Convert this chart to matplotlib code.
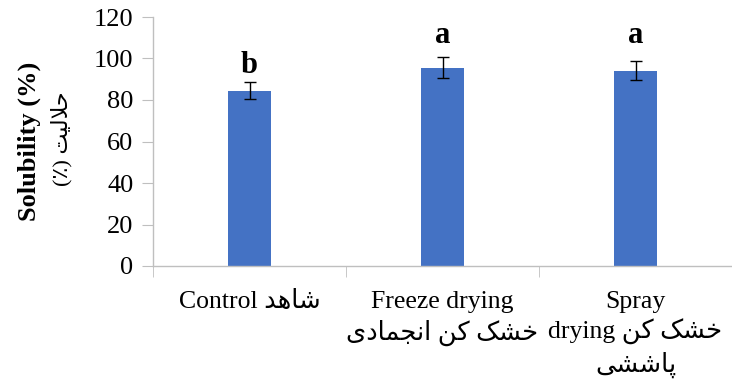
import matplotlib
matplotlib.use("Agg")
import matplotlib.pyplot as plt

# --- data -------------------------------------------------------------
methods = ["Control", "Freeze drying", "Spray drying"]
solubility = [84.5, 95.6, 94.1]
solubility_err = [4.2, 5.0, 4.5]
group_letters = ["b", "a", "a"]
letter_y = [93.0, 107.5, 107.5]
y_ticks = [0, 20, 40, 60, 80, 100, 120]

# --- minimal Persian shaping (presentation forms, visual order) -------
FORMS = {
    'ا': ('\uFE8D', '\uFE8E', None, None),
    'د': ('\uFEA9', '\uFEAA', None, None),
    'ح': ('\uFEA1', '\uFEA2', '\uFEA3', '\uFEA4'),
    'خ': ('\uFEA5', '\uFEA6', '\uFEA7', '\uFEA8'),
    'ج': ('\uFE9D', '\uFE9E', '\uFE9F', '\uFEA0'),
    'ش': ('\uFEB5', '\uFEB6', '\uFEB7', '\uFEB8'),
    'ل': ('\uFEDD', '\uFEDE', '\uFEDF', '\uFEE0'),
    'م': ('\uFEE1', '\uFEE2', '\uFEE3', '\uFEE4'),
    'ن': ('\uFEE5', '\uFEE6', '\uFEE7', '\uFEE8'),
    'ه': ('\uFEE9', '\uFEEA', '\uFEEB', '\uFEEC'),
    'ت': ('\uFE95', '\uFE96', '\uFE97', '\uFE98'),
    'پ': ('\uFB56', '\uFB57', '\uFB58', '\uFB59'),
    'ک': ('\uFB8E', '\uFB8F', '\uFB90', '\uFB91'),
    'ی': ('\uFBFC', '\uFBFD', '\uFBFE', '\uFBFF'),
    'لا': ('\uFEFB', '\uFEFC', None, None),
}


def shape_word(word):
    tokens = []
    i = 0
    while i < len(word):
        if word[i] == 'ل' and i + 1 < len(word) and word[i + 1] == 'ا':
            tokens.append('لا')
            i += 2
        else:
            tokens.append(word[i])
            i += 1
    out = []
    for k, t in enumerate(tokens):
        if t not in FORMS:
            out.append(t)
            continue
        iso, fin, ini, med = FORMS[t]
        prev = tokens[k - 1] if k > 0 else None
        nxt = tokens[k + 1] if k + 1 < len(tokens) else None
        jp = prev in FORMS and FORMS[prev][2] is not None
        jn = nxt in FORMS and ini is not None
        if jp and jn:
            out.append(med)
        elif jp:
            out.append(fin)
        elif jn:
            out.append(ini)
        else:
            out.append(iso)
    return "".join(reversed(out))


def fa(text):
    return " ".join(shape_word(w) for w in reversed(text.split(" ")))


tick_labels = [
    "Control " + fa("شاهد"),
    "Freeze drying\n" + fa("خشک کن انجمادی"),
    "Spray\ndrying " + fa("خشک کن") + "\n" + fa("پاششی"),
]

FAMILY = ["Liberation Serif", "DejaVu Sans"]
plt.rcParams["font.family"] = FAMILY

W, H = 732, 389
fig = plt.figure(figsize=(W / 100, H / 100), dpi=100)
ax = fig.add_axes([153 / W, (H - 266) / H, 579 / W, 249 / H])

x = range(len(methods))
ax.bar(x, solubility, width=0.22, color="#4472C4", zorder=2)
ax.errorbar(x, solubility, yerr=solubility_err, fmt="none", ecolor="black",
            elinewidth=1.0, capsize=4, capthick=1.0, zorder=3)
for xi, lab, ly in zip(x, group_letters, letter_y):
    ax.text(xi, ly, lab, ha="center", va="baseline", fontsize=22,
            fontweight="bold", family=FAMILY)

ax.set_xlim(-0.5, 2.5)
ax.set_ylim(0, 120)
ax.set_yticks(y_ticks)
ax.set_yticklabels([str(v) for v in y_ticks], fontsize=19)
ax.set_xticks(list(x))
ax.set_xticklabels(tick_labels, fontsize=18.5, linespacing=1.32)
ax.set_xticks([-0.5, 0.5, 1.5, 2.5], minor=True)
ax.tick_params(axis="x", which="major", length=0, pad=18)
ax.tick_params(axis="x", which="minor", length=8, color="#BFBFBF",
               direction="out")
ax.tick_params(axis="y", length=8, color="#BFBFBF", direction="out", pad=6)

for side in ("top", "right"):
    ax.spines[side].set_visible(False)
for side in ("left", "bottom"):
    ax.spines[side].set_color("#BFBFBF")
    ax.spines[side].set_linewidth(1.0)

fig.text(29 / W, 1 - 141 / H, "Solubility (%)", rotation=90, ha="center",
         va="center", fontsize=19, fontweight="bold", family=FAMILY)
fig.text(62 / W, 1 - 139 / H, "(\u066A) " + fa("حلالیت"), rotation=90,
         ha="center", va="center", fontsize=16, family=FAMILY)

fig.savefig("out.png", dpi=100)
